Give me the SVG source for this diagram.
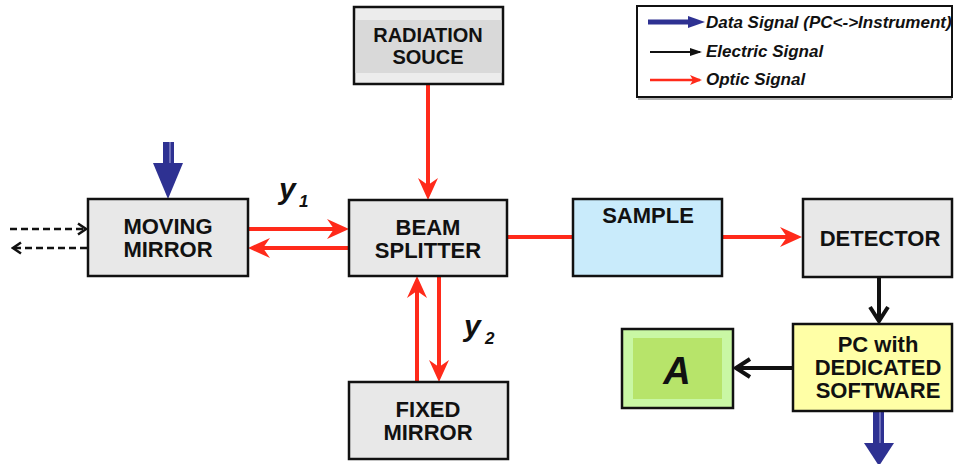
<svg xmlns="http://www.w3.org/2000/svg" width="954" height="464" viewBox="0 0 954 464">
<style>
.box{stroke:#111;stroke-width:2.5}
.gray{fill:#e8e8e8}
.lbl{font-family:"Liberation Sans",Arial,sans-serif;font-weight:bold;font-size:22px;fill:#111;text-anchor:middle}
.lbl.sm{font-size:20px}
.leg{font-family:"Liberation Sans",Arial,sans-serif;font-weight:bold;font-style:italic;font-size:17px;fill:#111}
.var{font-family:"Liberation Sans",Arial,sans-serif;font-weight:bold;font-style:italic;fill:#111}
.red{stroke:#ff2a1a;stroke-width:4;fill:none}
.blk{stroke:#111;stroke-width:4;fill:none}
.dash{stroke:#111;stroke-width:2.5;fill:none;stroke-dasharray:7 4}
.blue{fill:#2e3192}
</style>
<defs>
<marker id="rh" markerUnits="userSpaceOnUse" viewBox="0 0 22 22" markerWidth="22" markerHeight="22" refX="14" refY="11" orient="auto">
<path d="M0,1 L22,11 L0,21 L7,11 z" fill="#ff2a1a"/>
</marker>
<marker id="bh" markerUnits="userSpaceOnUse" viewBox="0 0 20 22" markerWidth="20" markerHeight="22" refX="16" refY="11" orient="auto">
<path d="M2,2 L16,11 L2,20" fill="none" stroke="#111" stroke-width="4"/>
</marker>
<marker id="dh" markerUnits="userSpaceOnUse" viewBox="0 0 12 14" markerWidth="12" markerHeight="14" refX="10" refY="7" orient="auto">
<path d="M2,1.5 L10,7 L2,12.5" fill="none" stroke="#111" stroke-width="2.5"/>
</marker>
<marker id="rhs" markerUnits="userSpaceOnUse" viewBox="0 0 12 12" markerWidth="12" markerHeight="12" refX="10" refY="6" orient="auto">
<path d="M0,1 L12,6 L0,11 L3,6 z" fill="#ff2a1a"/>
</marker>
<marker id="khs" markerUnits="userSpaceOnUse" viewBox="0 0 12 12" markerWidth="12" markerHeight="12" refX="10" refY="6" orient="auto">
<path d="M0,2 L12,6 L0,10 z" fill="#111"/>
</marker>
</defs>

<g id="legend">
<rect x="637" y="6" width="315" height="91" fill="#fff" stroke="#111" stroke-width="2"/>
<line x1="638" y1="99" x2="952" y2="99" stroke="#999" stroke-width="1.5"/>
<line x1="648" y1="22" x2="690" y2="22" stroke="#2e3192" stroke-width="5"/>
<polygon points="688,16 705,22 688,28" class="blue"/>
<text x="706" y="28" class="leg">Data Signal (PC&lt;-&gt;Instrument)</text>
<line x1="650" y1="52" x2="700" y2="52" stroke="#111" stroke-width="2" marker-end="url(#khs)"/>
<text x="706" y="57" class="leg">Electric Signal</text>
<line x1="650" y1="80" x2="700" y2="80" stroke="#ff2a1a" stroke-width="2.5" marker-end="url(#rhs)"/>
<text x="706" y="85" class="leg">Optic Signal</text>
</g>

<g id="connectors">
<line x1="428" y1="85" x2="428" y2="192" class="red" marker-end="url(#rh)"/>
<line x1="249" y1="229" x2="341" y2="229" class="red" marker-end="url(#rh)"/>
<line x1="348" y1="248" x2="256" y2="248" class="red" marker-end="url(#rh)"/>
<line x1="417" y1="381" x2="417" y2="284" class="red" marker-end="url(#rh)"/>
<line x1="439" y1="277" x2="439" y2="374" class="red" marker-end="url(#rh)"/>
<line x1="508" y1="237" x2="573" y2="237" class="red"/>
<line x1="723" y1="237" x2="794" y2="237" class="red" marker-end="url(#rh)"/>
<line x1="879" y1="278" x2="879" y2="321" class="blk" marker-end="url(#bh)"/>
<line x1="792" y1="368" x2="736" y2="368" class="blk" marker-end="url(#bh)"/>
<line x1="10" y1="229" x2="86" y2="229" class="dash" marker-end="url(#dh)"/>
<line x1="87" y1="248" x2="13" y2="248" class="dash" marker-end="url(#dh)"/>
<rect x="163" y="142" width="11" height="24" class="blue"/>
<line x1="170" y1="142" x2="170" y2="166" stroke="#9a9ad0" stroke-width="1.2"/>
<polygon points="153,163 183,163 168,199" class="blue"/>
<rect x="873" y="412" width="11" height="34" class="blue"/>
<line x1="880" y1="412" x2="880" y2="446" stroke="#9a9ad0" stroke-width="1.2"/>
<polygon points="864,443 894,443 879,466" class="blue"/>
</g>

<g id="radiation-source">
<rect x="354" y="7" width="149" height="77" class="box" fill="#ececec"/>
<rect x="355.5" y="20" width="146" height="53" fill="#d9d9d9"/>
<text x="428" y="42" class="lbl sm">RADIATION</text>
<text x="428" y="64" class="lbl sm">SOUCE</text>
</g>

<g id="moving-mirror">
<rect x="88" y="199" width="160" height="77" class="box gray"/>
<text x="168" y="234" class="lbl">MOVING</text>
<text x="168" y="257" class="lbl">MIRROR</text>
</g>

<g id="beam-splitter">
<rect x="349" y="200" width="158" height="76" class="box gray"/>
<text x="428" y="234.5" class="lbl">BEAM</text>
<text x="428" y="257.5" class="lbl">SPLITTER</text>
</g>

<g id="fixed-mirror">
<rect x="349" y="382" width="159" height="77" class="box gray"/>
<text x="428" y="416.5" class="lbl">FIXED</text>
<text x="428" y="439.5" class="lbl">MIRROR</text>
</g>

<g id="sample">
<rect x="573" y="199" width="149" height="77" class="box" fill="#c9ebfb"/>
<text x="648" y="223" class="lbl">SAMPLE</text>
</g>

<g id="detector">
<rect x="803" y="199" width="149" height="78" class="box gray"/>
<text x="880" y="246" class="lbl">DETECTOR</text>
</g>

<g id="pc">
<rect x="793" y="324" width="159" height="87" class="box" fill="#ffffa6"/>
<text x="878" y="352" class="lbl">PC with</text>
<text x="878" y="375" class="lbl">DEDICATED</text>
<text x="878" y="398" class="lbl">SOFTWARE</text>
</g>

<g id="result-a">
<rect x="622" y="329" width="111" height="79" class="box" fill="#c9f7a4"/>
<rect x="633" y="338" width="89" height="61" fill="#b7e46a"/>
<text x="677" y="384" class="var" font-size="38" text-anchor="middle">A</text>
</g>

<g id="labels">
<text x="279" y="199" class="var" font-size="30">y</text>
<text x="299" y="207" class="var" font-size="17">1</text>
<text x="464" y="336" class="var" font-size="30">y</text>
<text x="485" y="344" class="var" font-size="17">2</text>
</g>
</svg>
